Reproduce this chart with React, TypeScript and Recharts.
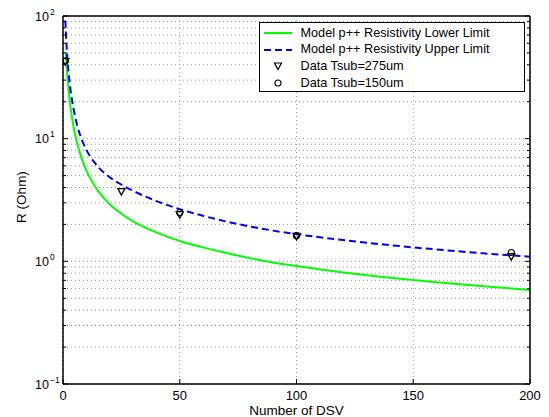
import React from "react";
import { ComposedChart, Line, Scatter, XAxis, YAxis, CartesianGrid, Legend } from "recharts";

const FONT = "'Liberation Sans', Arial, Helvetica, sans-serif";

// Model curves
const lowerX = [1.2, 1.5, 2, 3, 4, 5, 6, 8, 10, 12, 15, 20, 25, 30, 40, 50, 60, 70, 80, 90, 100, 120, 140, 160, 180, 200];
const lowerR = [51, 41, 30.3, 19.5, 14.3, 11.2, 9.3, 6.9, 5.5, 4.62, 3.75, 2.92, 2.44, 2.12, 1.72, 1.466, 1.3, 1.17, 1.062, 0.98, 0.915, 0.81, 0.735, 0.676, 0.627, 0.585];

const upperX = [1, 1.5, 2, 3, 4, 5, 6, 8, 10, 12, 15, 20, 25, 30, 40, 50, 60, 70, 80, 90, 100, 120, 140, 160, 180, 200];
const upperR = [92, 58, 42, 27, 19.9, 15.8, 13.0, 9.9, 8.1, 7.0, 5.9, 4.85, 4.22, 3.76, 3.1, 2.66, 2.35, 2.11, 1.925, 1.78, 1.665, 1.49, 1.355, 1.25, 1.162, 1.09];

// Measured data
const data275X = [1, 25, 50, 100, 192];
const data275R = [42.5, 3.7, 2.4, 1.6, 1.09];
const data150X = [1, 50, 100, 192];
const data150R = [43, 2.5, 1.62, 1.18];

// Axes
const xTicks = [0, 50, 100, 150, 200];
const yMajor = [0.1, 1, 10, 100];
const yMajorExp = ["\u22121", "0", "1", "2"];
const yMinor = [0.2, 0.3, 0.4, 0.5, 0.6, 0.7, 0.8, 0.9, 2, 3, 4, 5, 6, 7, 8, 9, 20, 30, 40, 50, 60, 70, 80, 90];
const yTicks = [...yMajor, ...yMinor].sort((a, b) => a - b);

const legendLabels = [
  "Model p++ Resistivity Lower Limit",
  "Model p++ Resistivity Upper Limit",
  "Data Tsub=275um",
  "Data Tsub=150um",
];

const toPoints = (xs: number[], ys: number[]) => xs.map((x, i) => ({ x, y: ys[i] }));
const lowerData = toPoints(lowerX, lowerR);
const upperData = toPoints(upperX, upperR);
const d275 = toPoints(data275X, data275R);
const d150 = toPoints(data150X, data150R);

const majorIndex = (v: number) => yMajor.findIndex((m) => Math.abs(m - v) < 1e-9);

const LeftTick = (props: any) => {
  const { x, y, payload } = props;
  const idx = majorIndex(payload.value);
  const len = idx >= 0 ? 5 : 3;
  return (
    <g>
      <line x1={x} x2={x + len} y1={y} y2={y} stroke="#000" strokeWidth={1} />
      {idx >= 0 && (
        <g fontFamily={FONT} fill="#000">
          <text x={x - 14} y={y + 4.5} textAnchor="end" fontSize={12.5}>10</text>
          <text x={x - 13} y={y - 1.5} textAnchor="start" fontSize={8.5}>{yMajorExp[idx]}</text>
        </g>
      )}
    </g>
  );
};

const RightTick = (props: any) => {
  const { x, y, payload } = props;
  const idx = majorIndex(payload.value);
  const len = idx >= 0 ? 5 : 3;
  return <line x1={x} x2={x - len} y1={y} y2={y} stroke="#000" strokeWidth={1} />;
};

const BottomTick = (props: any) => {
  const { x, y, payload } = props;
  return (
    <g>
      <line x1={x} x2={x} y1={y} y2={y - 5} stroke="#000" strokeWidth={1} />
      <text x={x} y={y + 15.5} textAnchor="middle" fontSize={13} fontFamily={FONT} fill="#000">
        {payload.value}
      </text>
    </g>
  );
};

const TopTick = (props: any) => {
  const { x, y } = props;
  return <line x1={x} x2={x} y1={y} y2={y + 5} stroke="#000" strokeWidth={1} />;
};

const Triangle = (p: any) => (
  <path
    d={`M${p.cx - 3.5},${p.cy - 3} L${p.cx + 3.5},${p.cy - 3} L${p.cx},${p.cy + 3.5} Z`}
    fill="none"
    stroke="#000"
    strokeWidth={1.3}
  />
);

const Circle = (p: any) => <circle cx={p.cx} cy={p.cy} r={3} fill="none" stroke="#000" strokeWidth={1.2} />;

const LegendBox = () => {
  const rowH = 16.8;
  const sample = (i: number) => {
    if (i === 0) return <line x1={4} x2={32} y1={8} y2={8} stroke="#00ff00" strokeWidth={2} />;
    if (i === 1) return <line x1={4} x2={32} y1={8} y2={8} stroke="#0000ff" strokeWidth={2} strokeDasharray="7 4" />;
    if (i === 2) return <path d="M14.5,5 L21.5,5 L18,11.5 Z" fill="none" stroke="#000" strokeWidth={1.2} />;
    return <circle cx={18} cy={8} r={3} fill="none" stroke="#000" strokeWidth={1.1} />;
  };
  return (
    <div
      style={{
        width: 266,
        height: 70,
        boxSizing: "border-box",
        border: "1.5px solid #000",
        background: "#fff",
        fontFamily: FONT,
        fontSize: 12.7,
        color: "#000",
        paddingTop: 1.5,
      }}
    >
      {legendLabels.map((lab, i) => (
        <div key={lab} style={{ display: "flex", alignItems: "center", height: rowH, lineHeight: `${rowH}px` }}>
          <svg width={40} height={16} style={{ display: "block", flex: "none" }}>
            {sample(i)}
          </svg>
          <span style={{ whiteSpace: "nowrap", marginLeft: 0.5 }}>{lab}</span>
        </div>
      ))}
    </div>
  );
};

const YLabel = (props: any) => {
  const vb = props.viewBox || { y: 16, height: 368 };
  const cy = vb.y + vb.height / 2 - 3;
  return (
    <text x={21} y={cy} transform={`rotate(-90 21 ${cy})`} textAnchor="middle" dominantBaseline="central" fontSize={13.5} fontFamily={FONT} fill="#000">
      R (Ohm)
    </text>
  );
};

const XLabel = (props: any) => {
  const vb = props.viewBox || { x: 63, width: 467 };
  const cx = vb.x + vb.width / 2;
  return (
    <text x={cx} y={414.5} textAnchor="middle" fontSize={13.5} fontFamily={FONT} fill="#000">
      Number of DSV
    </text>
  );
};

export default function App() {
  return (
    <div style={{ position: "absolute", left: 0, top: 0, width: 549, height: 417, background: "#fff" }}>
      <ComposedChart width={549} height={417} margin={{ top: 15, right: 18, bottom: 0, left: 0 }}>
        <CartesianGrid xAxisId="bottom" yAxisId="left" stroke="#9a9a9a" strokeDasharray="1 3" strokeWidth={1} />
        <XAxis
          xAxisId="bottom"
          type="number"
          dataKey="x"
          domain={[0, 200]}
          ticks={xTicks}
          interval={0}
          height={33}
          tickSize={0}
          tickMargin={0}
          tick={<BottomTick />}
          tickLine={false}
          axisLine={{ stroke: "#000", strokeWidth: 1.5 }}
          allowDataOverflow
          label={<XLabel />}
        />
        <XAxis
          xAxisId="top"
          orientation="top"
          type="number"
          domain={[0, 200]}
          ticks={xTicks}
          interval={0}
          height={1}
          tickSize={0}
          tickMargin={0}
          tick={<TopTick />}
          tickLine={false}
          axisLine={{ stroke: "#000", strokeWidth: 1.5 }}
          allowDataOverflow
        />
        <YAxis
          yAxisId="left"
          type="number"
          dataKey="y"
          scale="log"
          domain={[0.1, 100]}
          ticks={yTicks}
          interval={0}
          width={63}
          tickSize={0}
          tickMargin={0}
          tick={<LeftTick />}
          tickLine={false}
          axisLine={{ stroke: "#000", strokeWidth: 1.5 }}
          allowDataOverflow
          label={<YLabel />}
        />
        <YAxis
          yAxisId="right"
          orientation="right"
          type="number"
          scale="log"
          domain={[0.1, 100]}
          ticks={yTicks}
          interval={0}
          width={1}
          tickSize={0}
          tickMargin={0}
          tick={<RightTick />}
          tickLine={false}
          axisLine={{ stroke: "#000", strokeWidth: 1.5 }}
          allowDataOverflow
        />
        <Line
          xAxisId="bottom"
          yAxisId="left"
          data={lowerData}
          dataKey="y"
          type="monotone"
          stroke="#00ff00"
          strokeWidth={2}
          dot={false}
          activeDot={false}
          isAnimationActive={false}
        />
        <Line
          xAxisId="bottom"
          yAxisId="left"
          data={upperData}
          dataKey="y"
          type="monotone"
          stroke="#0000ff"
          strokeWidth={2}
          strokeDasharray="7 4"
          dot={false}
          activeDot={false}
          isAnimationActive={false}
        />
        <Scatter xAxisId="bottom" yAxisId="left" data={d275} dataKey="y" shape={Triangle} isAnimationActive={false} />
        <Scatter xAxisId="bottom" yAxisId="left" data={d150} dataKey="y" shape={Circle} isAnimationActive={false} />
        <Legend
          layout="vertical"
          align="center"
          verticalAlign="middle"
          content={() => <LegendBox />}
          wrapperStyle={{ position: "absolute", left: 259, top: 22, width: 266, height: 70 }}
        />
      </ComposedChart>
    </div>
  );
}
